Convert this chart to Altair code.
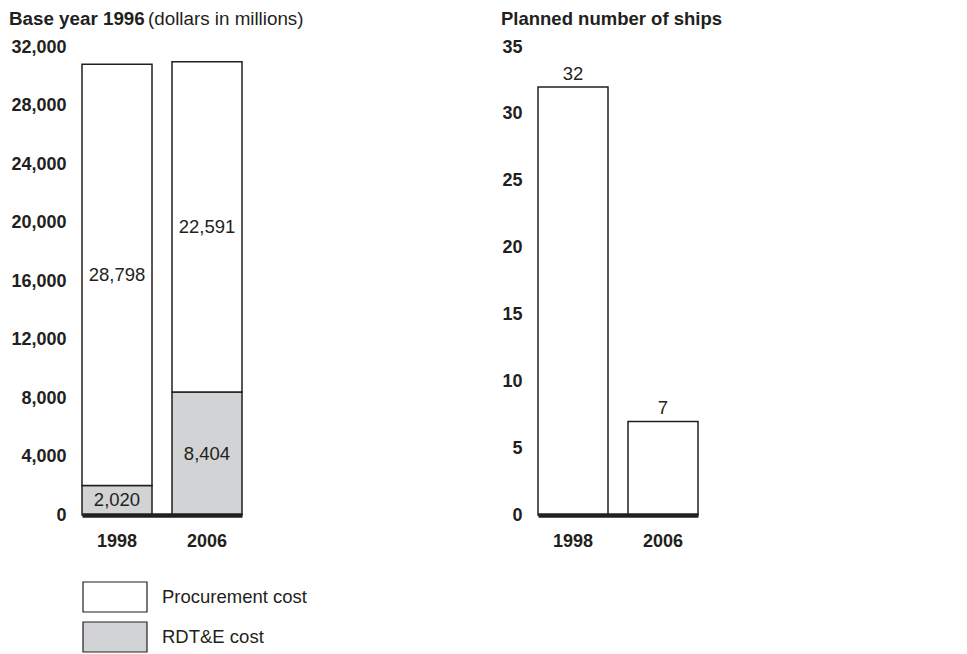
import altair as alt
import pandas as pd

years = ["1998", "2006"]
procurement = [28798, 22591]
rdte = [2020, 8404]
ships = [32, 7]
cost_types = ["Procurement cost", "RDT&E cost"]
cost_colors = ["#ffffff", "#d1d3d4"]
cost_ticks = [0, 4000, 8000, 12000, 16000, 20000, 24000, 28000, 32000]
ship_ticks = [0, 5, 10, 15, 20, 25, 30, 35]

FONT = "Liberation Sans"
INK = "#231f20"

rows = []
for i, yr in enumerate(years):
    rows.append({"year": yr, "type": cost_types[1], "value": rdte[i]})
    rows.append({"year": yr, "type": cost_types[0], "value": procurement[i]})
cost_df = pd.DataFrame(rows)
ship_df = pd.DataFrame({"year": years, "ships": ships})

xscale = alt.Scale(paddingInner=0.2222, paddingOuter=0)
xaxis = alt.Axis(title=None, labelFontWeight="bold", labelFontSize=18, labelColor=INK,
                 labelFont=FONT, labelPadding=17, ticks=False, domainWidth=4.5,
                 domainColor=INK, labelAngle=0, zindex=2)


def yaxis(vals, fmt):
    return alt.Axis(title=None, values=vals, format=fmt, grid=False, ticks=False,
                    domain=False, labelFontWeight="bold", labelFontSize=18,
                    labelColor=INK, labelFont=FONT, labelPadding=16)


base = (alt.Chart(cost_df)
        .transform_calculate(ord="datum.type === 'RDT&E cost' ? 0 : 1")
        .transform_stack(stack="value", groupby=["year"], as_=["v0", "v1"],
                         sort=[alt.SortField("ord", order="ascending")])
        .transform_calculate(mid="(datum.v0 + datum.v1) / 2"))

bars = base.mark_bar(stroke=INK, strokeWidth=1.5).encode(
    x=alt.X("year:N", scale=xscale, axis=xaxis),
    y=alt.Y("v0:Q", scale=alt.Scale(domain=[0, 32000], nice=False),
            axis=yaxis(cost_ticks, ",.0f")),
    y2="v1:Q",
    color=alt.Color("type:N", scale=alt.Scale(domain=cost_types, range=cost_colors),
                    legend=alt.Legend(
                        orient="none", legendX=17, legendY=534, title=None,
                        direction="vertical",
                        symbolType="M-2.133,-1L2.133,-1L2.133,1L-2.133,1Z",
                        symbolSize=900, symbolStrokeColor=INK,
                        symbolStrokeWidth=1.2, symbolOpacity=1,
                        labelFontSize=18.5, labelFont=FONT, labelColor=INK,
                        labelOffset=31, rowPadding=4)),
)

labels = base.mark_text(fontSize=18.5, font=FONT, color=INK).encode(
    x=alt.X("year:N", scale=xscale),
    y=alt.Y("mid:Q"),
    text=alt.Text("value:Q", format=","),
)

title_a = alt.Chart(pd.DataFrame({"t": ["Base year 1996"]})).mark_text(
    align="left", baseline="middle", fontSize=18.8, fontWeight="bold", font=FONT, color=INK
).encode(x=alt.value(-73), y=alt.value(-28), text="t:N")
title_b = alt.Chart(pd.DataFrame({"t": ["(dollars in millions)"]})).mark_text(
    align="left", baseline="middle", fontSize=18.8, font=FONT, color=INK
).encode(x=alt.value(66), y=alt.value(-28), text="t:N")

left = alt.layer(bars, labels, title_a, title_b).properties(width=160, height=468)

sbars = alt.Chart(ship_df).mark_bar(fill="#ffffff", stroke=INK, strokeWidth=1.5).encode(
    x=alt.X("year:N", scale=xscale, axis=xaxis),
    y=alt.Y("ships:Q", scale=alt.Scale(domain=[0, 35], nice=False),
            axis=yaxis(ship_ticks, "d")),
)
slabels = alt.Chart(ship_df).mark_text(
    fontSize=18.5, font=FONT, color=INK, baseline="bottom", dy=-3
).encode(x=alt.X("year:N", scale=xscale), y="ships:Q", text="ships:Q")
title_c = alt.Chart(pd.DataFrame({"t": ["Planned number of ships"]})).mark_text(
    align="left", baseline="middle", fontSize=18.5, fontWeight="bold", font=FONT, color=INK
).encode(x=alt.value(-37), y=alt.value(-28), text="t:N")

right = alt.layer(sbars, slabels, title_c).properties(width=160, height=468)

chart = (alt.hconcat(left, right, spacing=197)
         .properties(padding={"left": 1, "top": 2, "right": 0, "bottom": 0})
         .configure_view(stroke=None))

chart.save("out.html", embed_options={"renderer": "svg", "actions": False})
